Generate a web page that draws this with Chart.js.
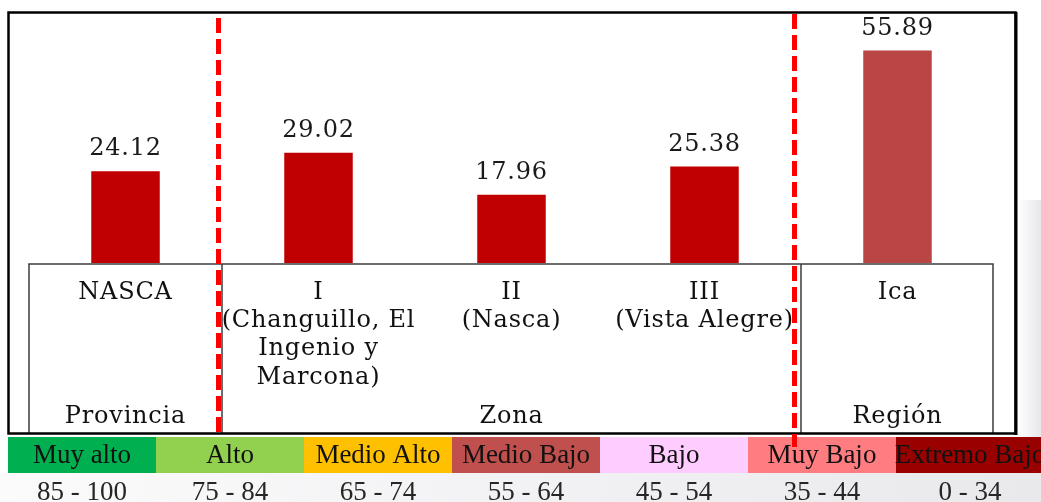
<!DOCTYPE html>
<html>
<head>
<meta charset="utf-8">
<script src="https://cdn.jsdelivr.net/npm/chart.js@4"></script>
<style>
  html, body { margin: 0; padding: 0; background: #ffffff; }
  #wrap { width: 1041px; height: 502px; }
</style>
</head>
<body>
<div id="wrap"><canvas id="myChart" width="1041" height="502"></canvas></div>
<script>
// categorías (etiquetas del eje X, varias líneas)
var categories = [
    ['NASCA'],
    ['I', '(Changuillo, El', 'Ingenio y', 'Marcona)'],
    ['II', '(Nasca)'],
    ['III', '(Vista Alegre)'],
    ['Ica']
];
// valores de cada barra
var values = [24.12, 29.02, 17.96, 25.38, 55.89];
var barColors = ['#c00000', '#c00000', '#c00000', '#c00000', '#b94645'];

// grupos de la tabla inferior (índice inicial y final)
var groupNames = ['Provincia', 'Zona', 'Región'];
var groupStart = [0, 1, 4];
var groupEnd = [0, 3, 4];

// escala de niveles
var levelNames = ['Muy alto', 'Alto', 'Medio Alto', 'Medio Bajo', 'Bajo', 'Muy Bajo', 'Extremo Bajo'];
var levelRanges = ['85 - 100', '75 - 84', '65 - 74', '55 - 64', '45 - 54', '35 - 44', '0 - 34'];
var levelColors = ['#00b050', '#92d050', '#ffc000', '#c0504d', '#ffccff', '#ff7c80', '#990000'];

var serif = '"DejaVu Serif", serif';
var times = '"Liberation Serif", "Times New Roman", serif';

// fondo y espaciado de letras
var bgPlugin = {
    id: 'bg',
    beforeDraw: function(chart) {
        var ctx = chart.ctx;
        ctx.fillStyle = '#ffffff';
        ctx.fillRect(0, 0, chart.width, chart.height);
        // sombra gris suave del fondo
        var g = ctx.createLinearGradient(1017, 0, 1041, 0);
        g.addColorStop(0, 'rgba(225,225,230,0)');
        g.addColorStop(1, 'rgba(225,225,230,0.8)');
        ctx.fillStyle = g;
        ctx.fillRect(1017, 200, 24, 237);
        var g2 = ctx.createLinearGradient(0, 0, 1041, 0);
        g2.addColorStop(0, '#fbfbfc');
        g2.addColorStop(1, '#e9e9ec');
        ctx.fillStyle = g2;
        ctx.fillRect(0, 473, 1041, 29);
        ctx.letterSpacing = '0.8px';
    }
};

// valores sobre las barras
var valuePlugin = {
    id: 'values',
    afterDatasetsDraw: function(chart) {
        var ctx = chart.ctx;
        var meta = chart.getDatasetMeta(0);
        ctx.save();
        ctx.font = '24px ' + serif;
        ctx.fillStyle = '#1a1a1a';
        ctx.textAlign = 'center';
        ctx.textBaseline = 'alphabetic';
        meta.data.forEach(function(bar, i) {
            ctx.fillText(values[i].toFixed(2), bar.x, bar.y - 16);
        });
        ctx.restore();
    }
};

// tabla, marco, leyenda y líneas punteadas
var tablePlugin = {
    id: 'table',
    afterDraw: function(chart) {
        var ctx = chart.ctx;
        var xs = chart.scales.x;
        var area = chart.chartArea;
        var step = xs.getPixelForValue(1) - xs.getPixelForValue(0);
        var top = area.bottom + 1;
        var bottom = 433;

        ctx.save();
        ctx.strokeStyle = '#3c3c3c';
        ctx.lineWidth = 1.5;
        ctx.beginPath();
        ctx.moveTo(area.left, bottom);
        ctx.lineTo(area.left, top);
        ctx.lineTo(area.right - 1, top);
        ctx.lineTo(area.right - 1, bottom);
        var bounds = [];
        for (var i = 1; i < groupNames.length; i++) {
            var bx = xs.getPixelForValue(groupStart[i]) - step / 2;
            bounds.push(bx);
            ctx.moveTo(bx, top);
            ctx.lineTo(bx, bottom);
        }
        ctx.stroke();

        // nombres de grupos
        ctx.font = '24px ' + serif;
        ctx.fillStyle = '#111111';
        ctx.textAlign = 'center';
        ctx.textBaseline = 'middle';
        for (var j = 0; j < groupNames.length; j++) {
            var cx = (xs.getPixelForValue(groupStart[j]) + xs.getPixelForValue(groupEnd[j])) / 2;
            ctx.fillText(groupNames[j], cx, 417);
        }

        // marco exterior
        ctx.strokeStyle = '#000000';
        ctx.lineWidth = 2.5;
        ctx.strokeRect(8.5, 12.5, 1007, 421);
        ctx.lineWidth = 3;
        ctx.beginPath();
        ctx.moveTo(1016, 12);
        ctx.lineTo(1016, 435);
        ctx.stroke();

        // leyenda de niveles
        ctx.letterSpacing = '0px';
        ctx.font = '27px ' + times;
        for (var k = 0; k < levelNames.length; k++) {
            var x0 = 8 + k * 148;
            var w = (k === levelNames.length - 1) ? 1041 - x0 : 148;
            ctx.fillStyle = levelColors[k];
            ctx.fillRect(x0, 437, w, 36);
        }
        for (var k2 = 0; k2 < levelNames.length; k2++) {
            var mx = 8 + k2 * 148 + 74;
            ctx.fillStyle = '#111111';
            ctx.fillText(levelNames[k2], mx, 456);
            ctx.fillStyle = '#262626';
            ctx.fillText(levelRanges[k2], mx, 493);
        }

        // líneas punteadas rojas
        ctx.strokeStyle = '#ff0000';
        ctx.lineWidth = 5;
        ctx.setLineDash([15, 6]);
        ctx.beginPath();
        ctx.moveTo(bounds[0] - 3.5, 18);
        ctx.lineTo(bounds[0] - 3.5, 437);
        ctx.moveTo(bounds[1] - 6.5, 14);
        ctx.lineTo(bounds[1] - 6.5, 447);
        ctx.stroke();
        ctx.restore();
    }
};

var ctx = document.getElementById('myChart').getContext('2d');
var myChart = new Chart(ctx, {
    type: 'bar',
    data: {
        labels: categories,
        datasets: [{
            data: values,
            backgroundColor: barColors,
            borderWidth: 0,
            barPercentage: 0.355,
            categoryPercentage: 1
        }]
    },
    options: {
        responsive: false,
        animation: false,
        layout: { padding: { left: 29, right: 47, top: 35, bottom: 0 } },
        plugins: {
            legend: { display: false },
            tooltip: { enabled: false }
        },
        scales: {
            y: {
                display: false,
                min: 0,
                max: 60
            },
            x: {
                grid: { display: false, drawTicks: false },
                border: { display: false },
                ticks: {
                    autoSkip: false,
                    maxRotation: 0,
                    minRotation: 0,
                    padding: 16,
                    color: '#111111',
                    font: { family: serif, size: 24, lineHeight: 1.17 }
                },
                afterFit: function(scale) {
                    scale.height = 239;
                }
            }
        }
    },
    plugins: [bgPlugin, valuePlugin, tablePlugin]
});
</script>
</body>
</html>
